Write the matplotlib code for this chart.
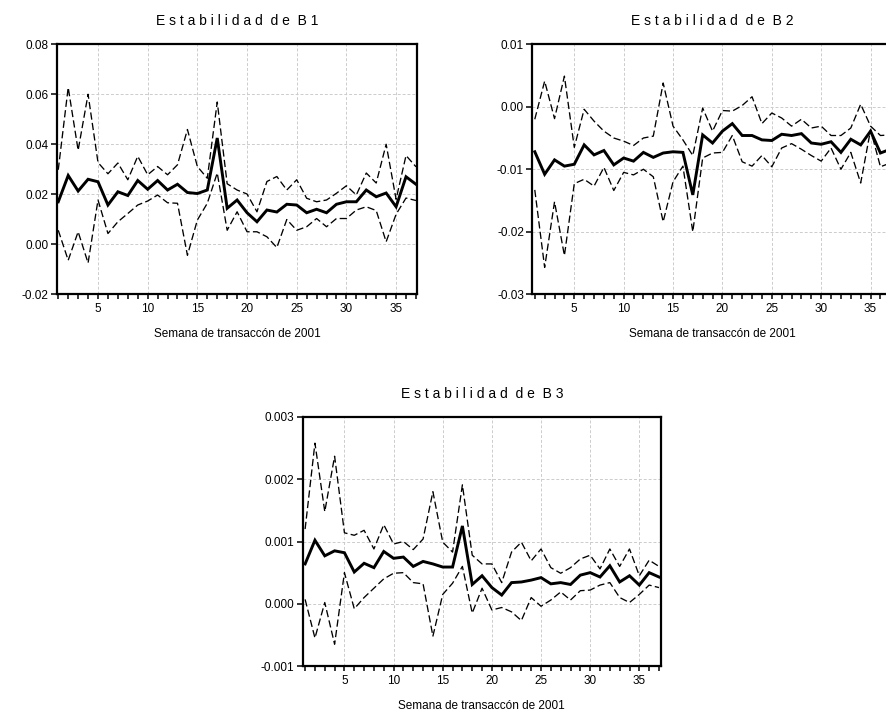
import matplotlib
matplotlib.use("Agg")
import matplotlib.pyplot as plt
from matplotlib.ticker import FixedLocator

plt.rcParams['font.family'] = ['Liberation Sans', 'DejaVu Sans']
plt.rcParams['axes.unicode_minus'] = False

weeks = list(range(1, 38))

# B1: estimate and +/- 2 s.e. bands
b1_mid = [0.0170, 0.0275, 0.0213, 0.0260, 0.0250, 0.0157, 0.0210, 0.0195, 0.0255, 0.0220,
          0.0255, 0.0217, 0.0240, 0.0207, 0.0203, 0.0217, 0.0425, 0.0144, 0.0177, 0.0126,
          0.0090, 0.0137, 0.0129, 0.0160, 0.0157, 0.0126, 0.0140, 0.0126, 0.0160, 0.0170,
          0.0170, 0.0217, 0.0190, 0.0205, 0.0150, 0.0270, 0.0240]
b1_hi = [0.0298, 0.0627, 0.0376, 0.0600, 0.0327, 0.0282, 0.0325, 0.0258, 0.0352, 0.0278,
         0.0311, 0.0278, 0.0318, 0.0459, 0.0311, 0.0264, 0.0569, 0.0242, 0.0217, 0.0201,
         0.0130, 0.0251, 0.0271, 0.0217, 0.0258, 0.0184, 0.0170, 0.0177, 0.0204, 0.0234,
         0.0197, 0.0285, 0.0245, 0.0400, 0.0180, 0.0355, 0.0310]
b1_lo = [0.0056, -0.0064, 0.0050, -0.0075, 0.0177, 0.0043, 0.0090, 0.0123, 0.0157, 0.0173,
         0.0197, 0.0166, 0.0164, -0.0044, 0.0097, 0.0164, 0.0285, 0.0056, 0.0130, 0.0050,
         0.0050, 0.0030, -0.0013, 0.0099, 0.0056, 0.0070, 0.0103, 0.0070, 0.0103, 0.0103,
         0.0137, 0.0150, 0.0135, 0.0010, 0.0120, 0.0185, 0.0175]

# B2
b2_mid = [-0.0072, -0.0108, -0.0085, -0.0095, -0.0092, -0.0061, -0.0077, -0.0070, -0.0093, -0.0082,
          -0.0087, -0.0073, -0.0081, -0.0074, -0.0072, -0.0073, -0.0141, -0.0045, -0.0058, -0.0039,
          -0.0027, -0.0046, -0.0046, -0.0053, -0.0054, -0.0044, -0.0046, -0.0043, -0.0058, -0.0060,
          -0.0056, -0.0073, -0.0052, -0.0061, -0.0039, -0.0074, -0.0068]
b2_hi = [-0.0020, 0.0041, -0.0019, 0.0049, -0.0065, -0.0004, -0.0023, -0.0039, -0.0050, -0.0055,
         -0.0062, -0.0050, -0.0047, 0.0038, -0.0031, -0.0053, -0.0078, -0.0002, -0.0039, -0.0006,
         -0.0007, 0.0002, 0.0016, -0.0027, -0.0010, -0.0018, -0.0031, -0.0020, -0.0034, -0.0031,
         -0.0046, -0.0046, -0.0034, 0.0004, -0.0031, -0.0046, -0.0045]
b2_lo = [-0.0133, -0.0257, -0.0152, -0.0238, -0.0123, -0.0116, -0.0127, -0.0097, -0.0134, -0.0105,
         -0.0109, -0.0100, -0.0112, -0.0184, -0.0120, -0.0095, -0.0200, -0.0082, -0.0074, -0.0073,
         -0.0046, -0.0088, -0.0095, -0.0078, -0.0096, -0.0066, -0.0059, -0.0068, -0.0078, -0.0087,
         -0.0066, -0.0100, -0.0073, -0.0122, -0.0037, -0.0096, -0.0090]

# B3
b3_mid = [0.00064, 0.00102, 0.00077, 0.00085, 0.00082, 0.00051, 0.00065, 0.00058, 0.00084, 0.00073,
          0.00075, 0.00060, 0.00068, 0.00064, 0.00059, 0.00059, 0.00125, 0.00031, 0.00045, 0.00026,
          0.00014, 0.00034, 0.00035, 0.00038, 0.00042, 0.00032, 0.00034, 0.00031, 0.00046, 0.00050,
          0.00043, 0.00061, 0.00035, 0.00045, 0.00030, 0.00050, 0.00043]
b3_hi = [0.00120, 0.00258, 0.00148, 0.00237, 0.00114, 0.00110, 0.00118, 0.00088, 0.00127, 0.00096,
         0.00100, 0.00087, 0.00104, 0.00180, 0.00099, 0.00083, 0.00191, 0.00078, 0.00064, 0.00064,
         0.00034, 0.00083, 0.00099, 0.00069, 0.00088, 0.00058, 0.00049, 0.00058, 0.00072, 0.00078,
         0.00056, 0.00088, 0.00060, 0.00088, 0.00045, 0.00070, 0.00060]
b3_lo = [0.00007, -0.00055, 0.00002, -0.00065, 0.00050, -0.00008, 0.00010, 0.00025, 0.00040, 0.00049,
         0.00050, 0.00034, 0.00032, -0.00052, 0.00015, 0.00033, 0.00060, -0.00015, 0.00025, -0.00010,
         -0.00006, -0.00013, -0.00027, 0.00010, -0.00004, 0.00006, 0.00019, 0.00006, 0.00021, 0.00022,
         0.00030, 0.00034, 0.00010, 0.00002, 0.00015, 0.00030, 0.00026]

titles = ['Estabilidad de B1', 'Estabilidad de B2', 'Estabilidad de B3']
xlabel = 'Semana de transaccón de 2001'
yticks = [[-0.02, 0.00, 0.02, 0.04, 0.06, 0.08],
          [-0.03, -0.02, -0.01, 0.00, 0.01],
          [-0.001, 0.000, 0.001, 0.002, 0.003]]
yfmt = ['{:.2f}', '{:.2f}', '{:.3f}']
xticks = [5, 10, 15, 20, 25, 30, 35]


def spaced(s):
    # title letters are spread out in the original
    return ' '.join(s).replace('   ', '  ')


fig = plt.figure(figsize=(8.86, 7.16), dpi=100)
positions = [[0.0643, 0.589, 0.4063, 0.3492],
             [0.6008, 0.589, 0.4063, 0.3492],
             [0.3416, 0.0698, 0.4044, 0.3478]]
series = [(b1_mid, b1_hi, b1_lo), (b2_mid, b2_hi, b2_lo), (b3_mid, b3_hi, b3_lo)]
xlims = [(0.87, 37.1), (0.75, 37.2), (0.75, 37.2)]

for i in range(3):
    ax = fig.add_axes(positions[i])
    mid, hi, lo = series[i]
    ax.plot(weeks, hi, color='black', lw=0.95, ls=(0, (5.5, 2.5)))
    ax.plot(weeks, lo, color='black', lw=0.95, ls=(0, (5.5, 2.5)))
    ax.plot(weeks, mid, color='black', lw=2.1, solid_joinstyle='miter')
    ax.set_xlim(*xlims[i])
    ax.set_ylim(yticks[i][0], yticks[i][-1])
    ax.set_yticks(yticks[i])
    ax.set_yticklabels([yfmt[i].format(v) for v in yticks[i]])
    ax.set_xticks(xticks)
    ax.xaxis.set_minor_locator(FixedLocator(weeks))
    ax.grid(True, color='#cccccc', ls=(0, (3, 2)), lw=0.7)
    for sp in ax.spines.values():
        sp.set_linewidth(1.6)
    ax.tick_params(axis='y', direction='out', length=4, width=1.1, labelsize=8.5, pad=2)
    ax.tick_params(axis='x', which='both', direction='out', length=3.5, width=1.1,
                   labelsize=8.5, pad=3)
    ax.set_title(spaced(titles[i]), fontsize=10, pad=14)
    ax.set_xlabel(xlabel, fontsize=8.5, labelpad=9)

fig.savefig('out.png', dpi=100)
